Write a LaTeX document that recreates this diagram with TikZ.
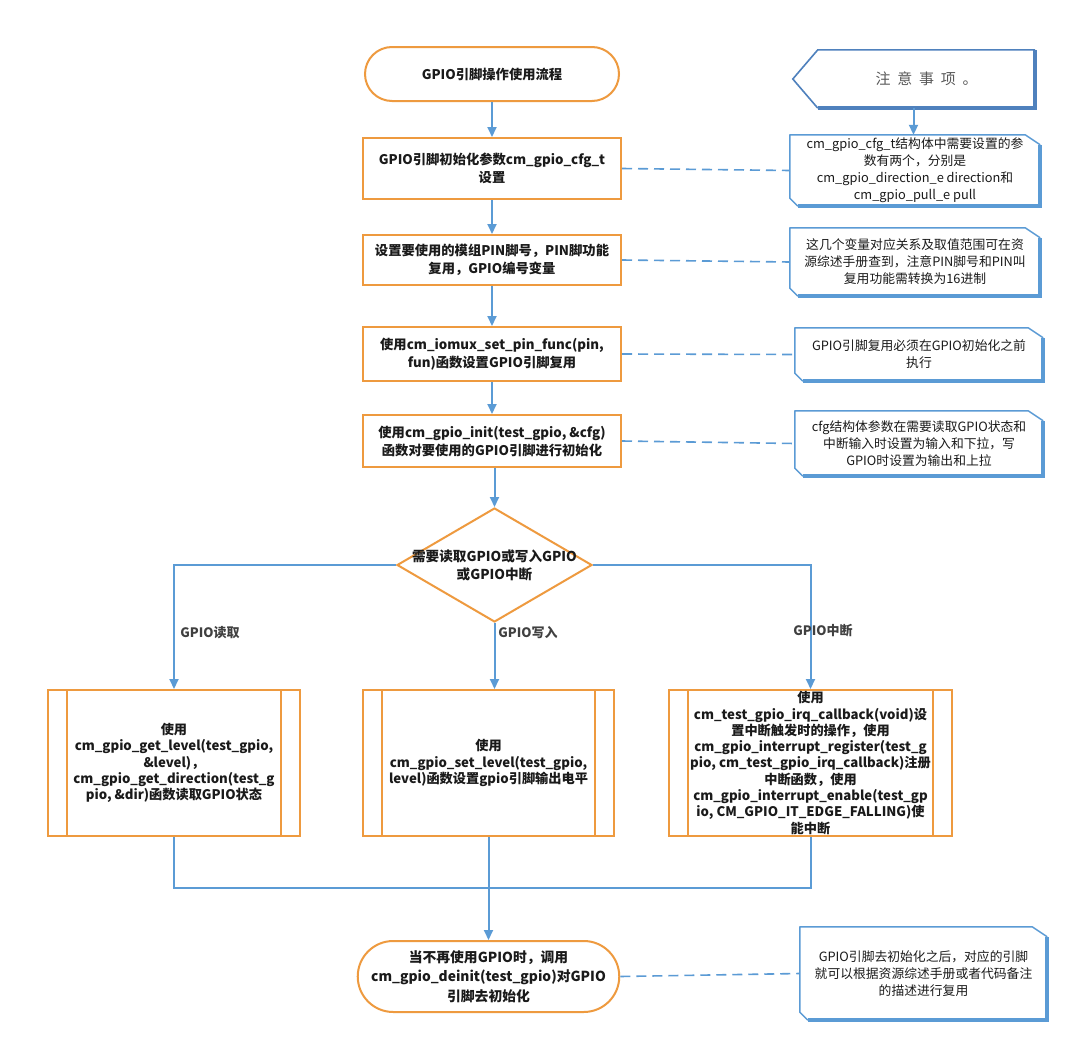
\documentclass[tikz,border=0pt]{standalone}
\usepackage{fontspec}
\setmainfont{Noto Sans CJK SC}
\newfontfamily\hdrfont[LetterSpace=45]{Noto Sans CJK SC}
\usetikzlibrary{shapes.geometric,shapes.misc,arrows.meta,calc}
\definecolor{ora}{HTML}{EE9A3F}
\definecolor{blu}{HTML}{5B9BD5}
\definecolor{hdrblu}{HTML}{4F81BD}
\definecolor{txt}{HTML}{1A1A1A}
\begin{document}
\begin{tikzpicture}[x=1pt,y=-1pt,
  proc/.style={draw=ora, line width=2pt, fill=white, minimum width=258, align=center,
    font=\fontsize{13.3}{18}\selectfont\bfseries, text=txt, inner sep=2},
  term/.style={proc, rounded rectangle},
  sub/.style={draw=ora, line width=2pt, fill=white, align=center,
    font=\fontsize{13.2}{16.3}\selectfont\bfseries, text=txt, inner sep=1, minimum height=146},
  note/.style={draw=none, fill=white, align=center,
    font=\fontsize{12.8}{17}\selectfont, text=txt, inner sep=2},
  lbl/.style={font=\fontsize{13}{15}\selectfont\bfseries, text=black!75},
  arr/.style={draw=blu, line width=2pt, -{Triangle[length=10pt,width=9pt]}},
  con/.style={draw=blu, line width=2pt},
  dsh/.style={draw=blu, line width=1.6pt, dash pattern=on 10pt off 6pt},
]
\fill[white] (0,0) rectangle (1080,1052);
\useasboundingbox (0,0) rectangle (1080,1052);

% main flow
\node[term, minimum height=54] (start) at (492,74) {GPIO引脚操作使用流程};
\node[proc, minimum height=61] (b1) at (492,168.5) {GPIO引脚初始化参数cm\_gpio\_cfg\_t\\设置};
\node[proc, minimum height=50] (b2) at (492,260) {设置要使用的模组PIN脚号，PIN脚功能\\复用，GPIO编号变量};
\node[proc, minimum height=54] (b3) at (492,354) {使用cm\_iomux\_set\_pin\_func(pin,\\fun)函数设置GPIO引脚复用};
\node[proc, minimum height=52] (b4) at (492,441) {使用cm\_gpio\_init(test\_gpio, \&cfg)\\函数对要使用的GPIO引脚进行初始化};

\node[diamond, draw=ora, line width=2pt, fill=white, minimum width=195, minimum height=114, inner sep=0] (dec) at (494.5,565) {};
\node[font=\fontsize{13.6}{18}\selectfont\bfseries, text=txt, align=center] (dect) at (dec.center) {需要读取GPIO或写入GPIO\\或GPIO中断};

\node[sub, minimum width=252] (L) at (174,763) {使用\\cm\_gpio\_get\_level(test\_gpio,\\\&level)，\\cm\_gpio\_get\_direction(test\_g\\pio, \&dir)函数读取GPIO状态};
\node[sub, minimum width=251] (M) at (488.5,763) {使用\\cm\_gpio\_set\_level(test\_gpio,\\level)函数设置gpio引脚输出电平};
\node[sub, minimum width=283] (R) at (810.5,763) {使用\\cm\_test\_gpio\_irq\_callback(void)设\\置中断触发时的操作，使用\\cm\_gpio\_interrupt\_register(test\_g\\pio, cm\_test\_gpio\_irq\_callback)注册\\中断函数，使用\\cm\_gpio\_interrupt\_enable(test\_gp\\io, CM\_GPIO\_IT\_EDGE\_FALLING)使\\能中断};
\foreach \n in {L,M,R}{
  \draw[ora, line width=2pt] ([xshift=20pt]\n.north west) -- ([xshift=20pt]\n.south west);
  \draw[ora, line width=2pt] ([xshift=-20pt]\n.north east) -- ([xshift=-20pt]\n.south east);
}

\node[term, minimum width=257, minimum height=71, font=\fontsize{13.8}{19.5}\selectfont\bfseries] (end) at (488.5,976.5) {当不再使用GPIO时，调用\\cm\_gpio\_deinit(test\_gpio)对GPIO\\引脚去初始化};

% connectors
\draw[arr] (start) -- (b1);
\draw[arr] (b1) -- (b2);
\draw[arr] (b2) -- (b3);
\draw[arr] (b3) -- (b4);
\draw[arr] (b4.south -| dec.north) -- (dec.north);
\draw[arr] (dec.west) -| (L.north);
\draw[arr] (dec.south) -- (dec.south |- M.north);
\draw[arr] (dec.east) -| (R.north);
\node[lbl] (l1) at (210,633) {GPIO读取};
\node[lbl] (l2) at (528,633) {GPIO写入};
\node[lbl] (l3) at (823,631) {GPIO中断};
\coordinate (j) at (174,888);
\draw[con] (L.south) -- (j) -| (R.south);
\draw[arr] (M.south) -- (end.north);

% notes
\node[note, minimum width=250, minimum height=71] (n1) at (915,170.5) {cm\_gpio\_cfg\_t结构体中需要设置的参\\数有两个，分别是\\cm\_gpio\_direction\_e direction和\\cm\_gpio\_pull\_e pull};
\node[note, minimum width=250, minimum height=68] (n2) at (915,262) {这几个变量对应关系及取值范围可在资\\源综述手册查到，注意PIN脚号和PIN叫\\复用功能需转换为16进制};
\node[note, minimum width=248, minimum height=53] (n3) at (919,354.5) {GPIO引脚复用必须在GPIO初始化之前\\执行};
\node[note, minimum width=248, minimum height=65] (n4) at (919,443.5) {cfg结构体参数在需要读取GPIO状态和\\中断输入时设置为输入和下拉，写\\GPIO时设置为输出和上拉};
\node[note, minimum width=247, minimum height=93] (n5) at (923.5,973.5) {GPIO引脚去初始化之后，对应的引脚\\就可以根据资源综述手册或者代码备注\\的描述进行复用};
\foreach \n in {n1,n2,n3,n4,n5}{
  \draw[blu, line width=1.5pt, line join=round] ($(\n.south west)+(8,0)$) -- ($(\n.south west)+(0,-8)$) -- (\n.north west) -- ($(\n.north east)+(-15,0)$) -- ($(\n.north east)+(0,10)$);
  \draw[blu, line width=4pt, line join=miter] ($(\n.north east)+(0,10)$) -- (\n.south east) -- ($(\n.south west)+(8,0)$);
}

% header
\node[draw=none, minimum width=217, minimum height=58, font=\hdrfont\fontsize{15}{16}\selectfont, text=black!65] (hdr) at (926.5,79) {注意事项。};
\draw[hdrblu, line width=1.6pt, line join=miter] (hdr.south west) -- ([xshift=-25pt]hdr.west) -- (hdr.north west) -- (hdr.north east);
\draw[hdrblu, line width=4pt, line join=miter] (hdr.north east) -- (hdr.south east) -- (hdr.south west);
\draw[arr] ([xshift=-13pt]hdr.south) -- ([xshift=-13pt]hdr.south |- n1.north);

% dashed links
\draw[dsh] (b1.east) -- (n1.west);
\draw[dsh] (b2.east) -- (n2.west);
\draw[dsh] (b3.east) -- (n3.west);
\draw[dsh] (b4.east) -- (n4.west);
\draw[dsh] (end.east) -- (n5.west);
\end{tikzpicture}
\end{document}
